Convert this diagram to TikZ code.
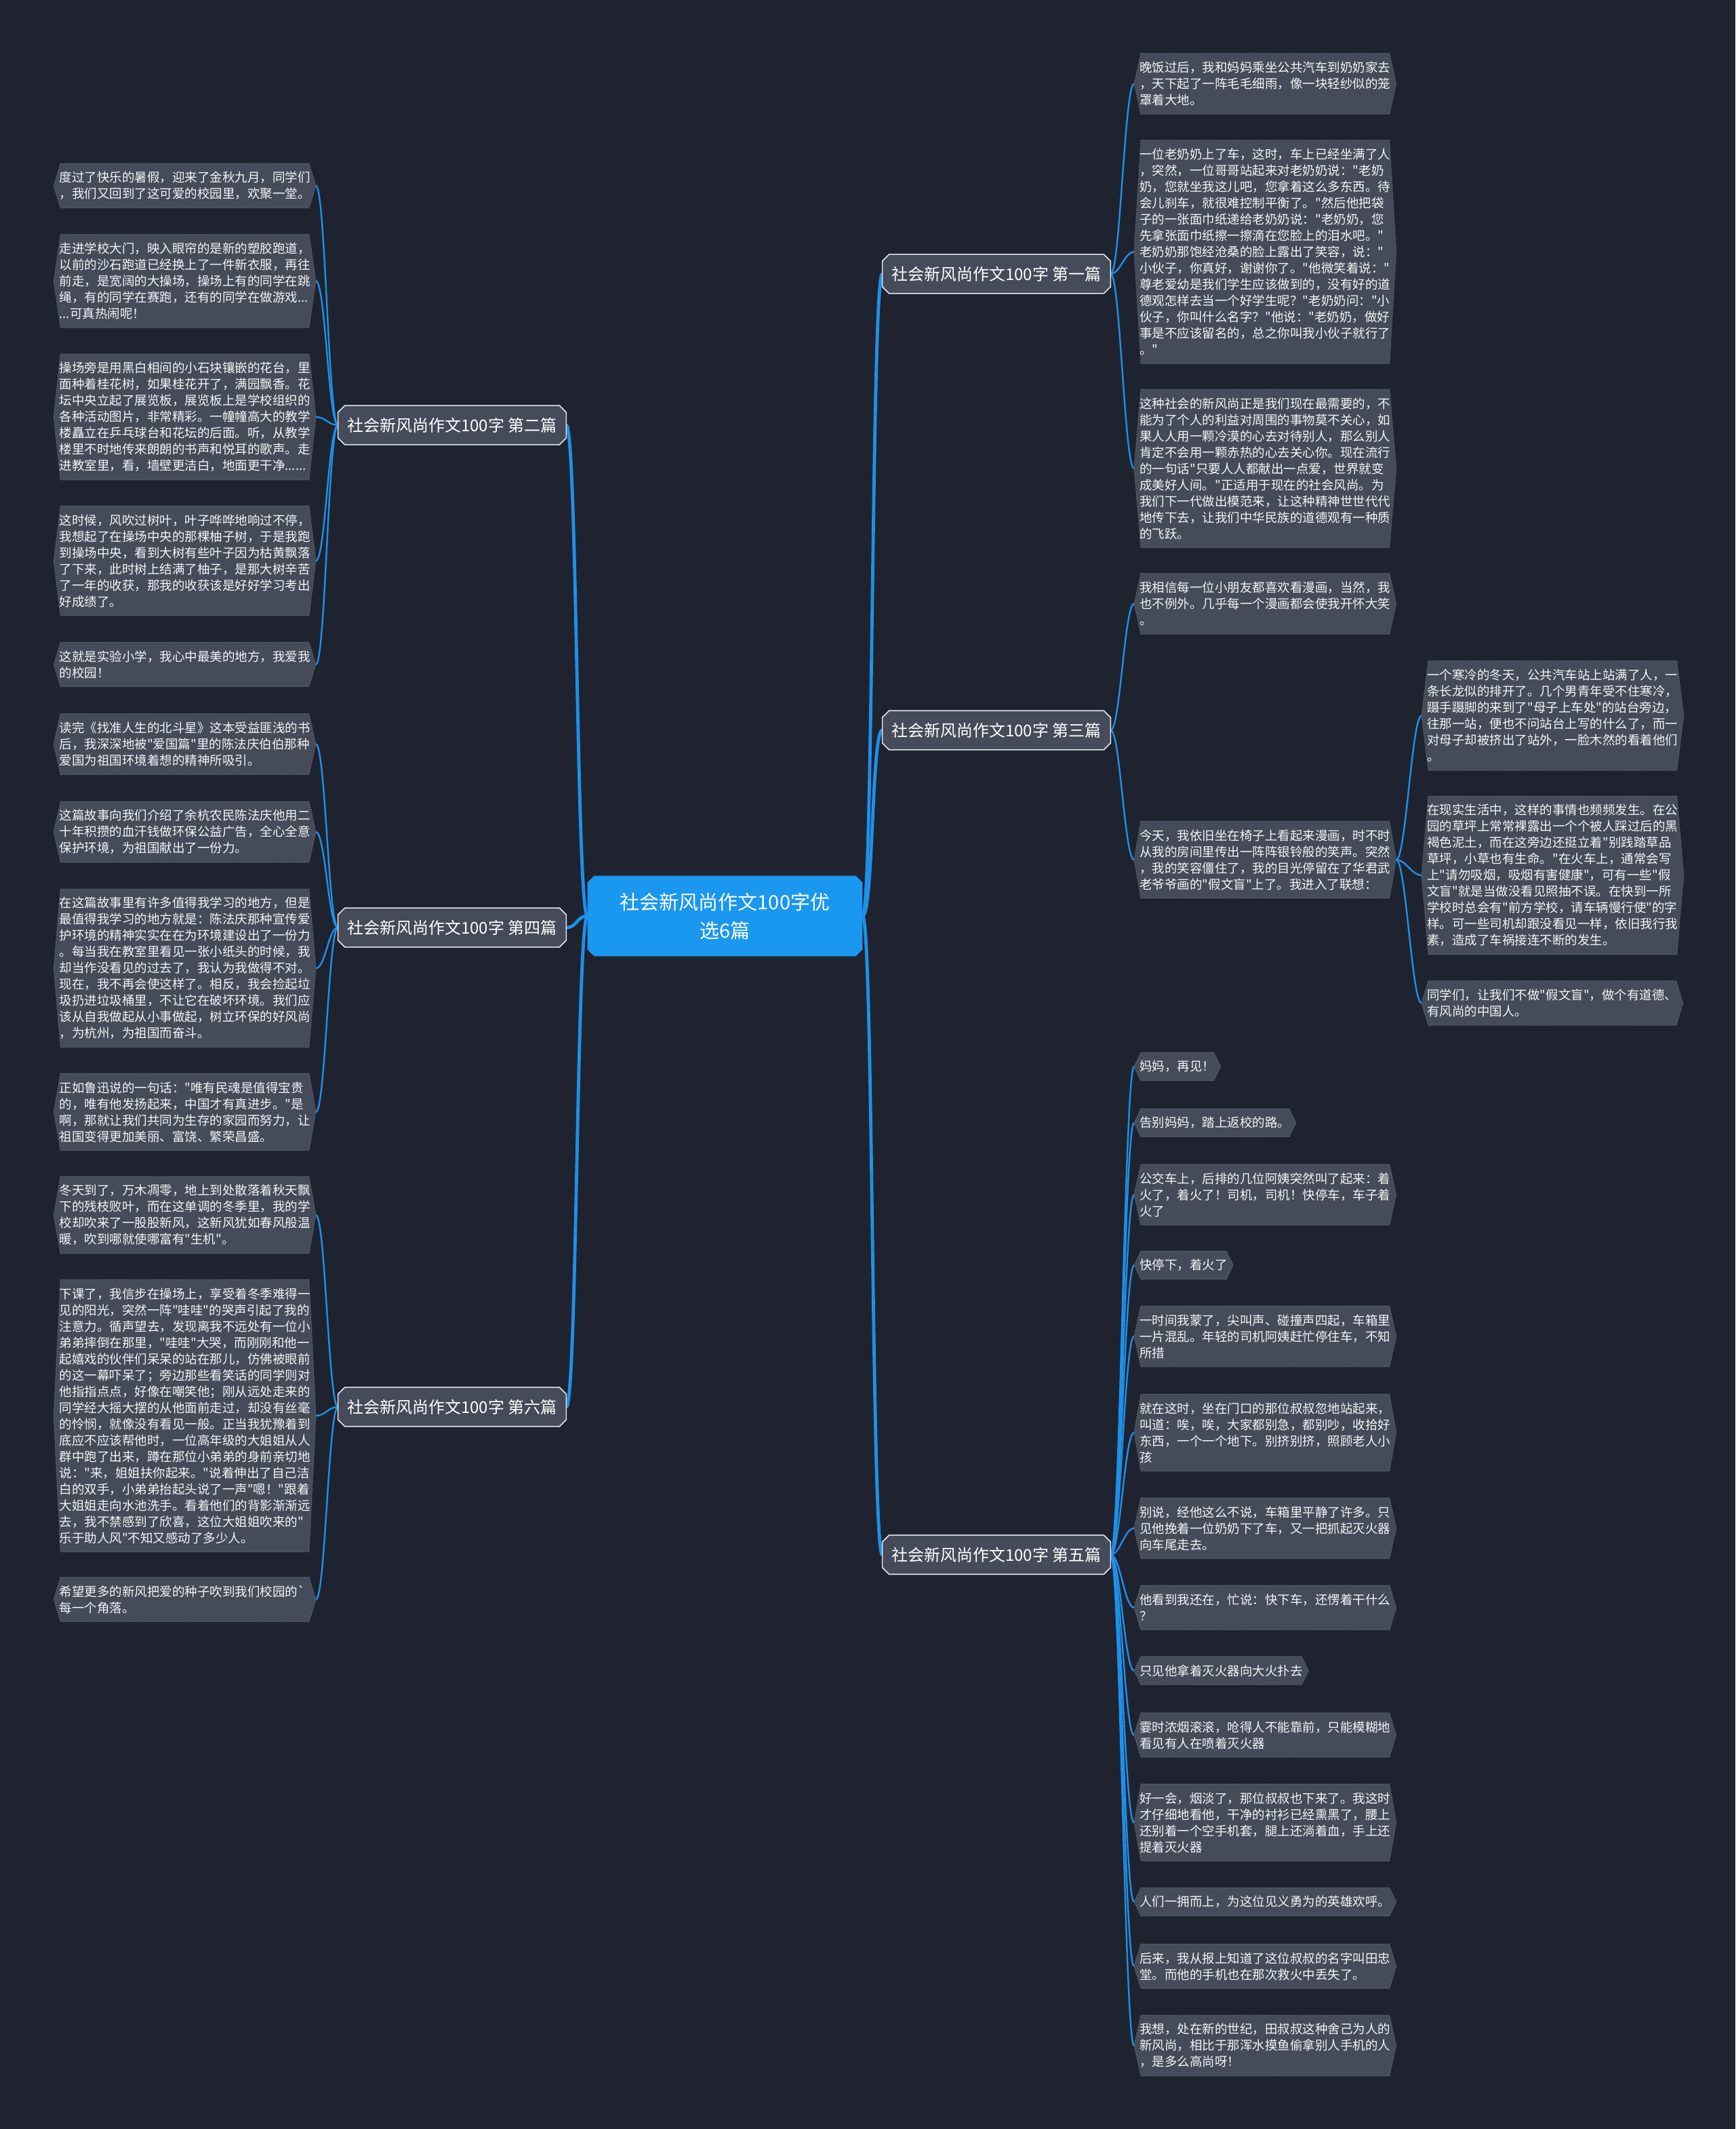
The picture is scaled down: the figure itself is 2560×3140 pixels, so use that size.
\documentclass[tikz,border=0pt]{standalone}
\usepackage{fontspec}
\newfontfamily\cjk{Noto Sans CJK SC}
\usetikzlibrary{backgrounds}
\definecolor{bgcol}{HTML}{1F2330}
\definecolor{leaffill}{HTML}{464B5A}
\definecolor{leafborder}{HTML}{737A8A}
\definecolor{branchborder}{HTML}{E2E6EC}
\definecolor{centerfill}{HTML}{1A97EF}
\definecolor{linecol}{HTML}{1E90E8}
\definecolor{txt}{HTML}{F4F5F7}
\tikzset{
 leaf/.style={inner xsep=4pt, inner ysep=0pt, align=left, text=txt, font=\cjk\fontsize{9.25pt}{12pt}\selectfont},
 branch/.style={inner sep=0pt, minimum width=168pt, minimum height=28.5pt, text=white, font=\cjk\fontsize{12pt}{14pt}\selectfont},
 centre/.style={inner sep=0pt, minimum width=202.5pt, minimum height=59pt, align=center, text=white, font=\cjk\fontsize{14.5pt}{21pt}\selectfont},
 leafshape/.style={fill=leaffill, draw=leafborder, line width=0.5pt, densely dotted},
 branchshape/.style={fill=leaffill, draw=branchborder, line width=0.8pt},
 centreshape/.style={fill=centerfill},
 leafconn/.style={draw=linecol, line width=1.2pt},
 mainconn/.style={draw=linecol, line width=2.4pt},
}
\newcommand\lf[6][]{\node[leaf,anchor=#3,minimum height={(24*#5+17)*0.5pt},#1] (#2) at (#4) {#6};}
\newcommand\hexa[1]{\path[leafshape] ([xshift=5pt]#1.north west) -- ([xshift=-5pt]#1.north east) -- (#1.east) -- ([xshift=-5pt]#1.south east) -- ([xshift=5pt]#1.south west) -- (#1.west) -- cycle;}
\newcommand\octa[3]{\path[#3] ([xshift=#2]#1.north west) -- ([xshift=-#2]#1.north east) -- ([yshift=-#2]#1.north east) -- ([yshift=#2]#1.south east) -- ([xshift=-#2]#1.south east) -- ([xshift=#2]#1.south west) -- ([yshift=#2]#1.south west) -- ([yshift=-#2]#1.north west) -- cycle;}
\begin{document}
\begin{tikzpicture}[x=0.5pt,y=-0.5pt]
\useasboundingbox (0,0) rectangle (2560,3140);
% centre and branches
\node[centre] (C) at (1069.5,1351) {社会新风尚作文100字优\\选6篇};
\node[branch] (B1) at (1470,404) {社会新风尚作文100字 第一篇};
\node[branch] (B3) at (1470,1077) {社会新风尚作文100字 第三篇};
\node[branch] (B5) at (1470,2293) {社会新风尚作文100字 第五篇};
\node[branch] (B2) at (667,627) {社会新风尚作文100字 第二篇};
\node[branch] (B4) at (667,1368) {社会新风尚作文100字 第四篇};
\node[branch] (B6) at (667,2075) {社会新风尚作文100字 第六篇};
% left leaves
\lf{L1}{east}{466,274}{2}{度过了快乐的暑假，迎来了金秋九月，同学们\\，我们又回到了这可爱的校园里，欢聚一堂。}
\lf{L2}{east}{466,414.5}{5}{走进学校大门，映入眼帘的是新的塑胶跑道，\\以前的沙石跑道已经换上了一件新衣服，再往\\前走，是宽阔的大操场，操场上有的同学在跳\\绳，有的同学在赛跑，还有的同学在做游戏...\\...可真热闹呢！}
\lf{L3}{east}{466,615}{7}{操场旁是用黑白相间的小石块镶嵌的花台，里\\面种着桂花树，如果桂花开了，满园飘香。花\\坛中央立起了展览板，展览板上是学校组织的\\各种活动图片，非常精彩。一幢幢高大的教学\\楼矗立在乒乓球台和花坛的后面。听，从教学\\楼里不时地传来朗朗的书声和悦耳的歌声。走\\进教室里，看，墙壁更洁白，地面更干净......}
\lf{L4}{east}{466,827}{6}{这时候，风吹过树叶，叶子哗哗地响过不停，\\我想起了在操场中央的那棵柚子树，于是我跑\\到操场中央，看到大树有些叶子因为枯黄飘落\\了下来，此时树上结满了柚子，是那大树辛苦\\了一年的收获，那我的收获该是好好学习考出\\好成绩了。}
\lf{L5}{east}{466,980}{2}{这就是实验小学，我心中最美的地方，我爱我\\的校园！}
\lf{L6}{east}{466,1097.5}{3}{读完《找准人生的北斗星》这本受益匪浅的书\\后，我深深地被"爱国篇"里的陈法庆伯伯那种\\爱国为祖国环境着想的精神所吸引。}
\lf{L7}{east}{466,1227}{3}{这篇故事向我们介绍了余杭农民陈法庆他用二\\十年积攒的血汗钱做环保公益广告，全心全意\\保护环境，为祖国献出了一份力。}
\lf{L8}{east}{466,1428}{9}{在这篇故事里有许多值得我学习的地方，但是\\最值得我学习的地方就是：陈法庆那种宣传爱\\护环境的精神实实在在为环境建设出了一份力\\。每当我在教室里看见一张小纸头的时候，我\\却当作没看见的过去了，我认为我做得不对。\\现在，我不再会使这样了。相反，我会捡起垃\\圾扔进垃圾桶里，不让它在破坏环境。我们应\\该从自我做起从小事做起，树立环保的好风尚\\，为杭州，为祖国而奋斗。}
\lf{L9}{east}{466,1640}{4}{正如鲁迅说的一句话："唯有民魂是值得宝贵\\的，唯有他发扬起来，中国才有真进步。"是\\啊，那就让我们共同为生存的家园而努力，让\\祖国变得更加美丽、富饶、繁荣昌盛。}
\lf{L10}{east}{466,1792}{4}{冬天到了，万木凋零，地上到处散落着秋天飘\\下的残枝败叶，而在这单调的冬季里，我的学\\校却吹来了一股股新风，这新风犹如春风般温\\暖，吹到哪就使哪富有"生机"。}
\lf{L11}{east}{466,2088}{16}{下课了，我信步在操场上，享受着冬季难得一\\见的阳光，突然一阵"哇哇"的哭声引起了我的\\注意力。循声望去，发现离我不远处有一位小\\弟弟摔倒在那里，"哇哇"大哭，而刚刚和他一\\起嬉戏的伙伴们呆呆的站在那儿，仿佛被眼前\\的这一幕吓呆了；旁边那些看笑话的同学则对\\他指指点点，好像在嘲笑他；刚从远处走来的\\同学经大摇大摆的从他面前走过，却没有丝毫\\的怜悯，就像没有看见一般。正当我犹豫着到\\底应不应该帮他时，一位高年级的大姐姐从人\\群中跑了出来，蹲在那位小弟弟的身前亲切地\\说："来，姐姐扶你起来。"说着伸出了自己洁\\白的双手，小弟弟抬起头说了一声"嗯！"跟着\\大姐姐走向水池洗手。看着他们的背影渐渐远\\去，我不禁感到了欣喜，这位大姐姐吹来的"\\乐于助人风"不知又感动了多少人。}
\lf[minimum width=193pt,text width=185pt]{L12}{east}{466,2359}{2}{希望更多的新风把爱的种子吹到我们校园的`\\每一个角落。}
% right leaves
\lf{R1}{west}{1673,123.5}{3}{晚饭过后，我和妈妈乘坐公共汽车到奶奶家去\\，天下起了一阵毛毛细雨，像一块轻纱似的笼\\罩着大地。}
\lf{R2}{west}{1673,371.5}{13}{一位老奶奶上了车，这时，车上已经坐满了人\\，突然，一位哥哥站起来对老奶奶说："老奶\\奶，您就坐我这儿吧，您拿着这么多东西。待\\会儿刹车，就很难控制平衡了。"然后他把袋\\子的一张面巾纸递给老奶奶说："老奶奶，您\\先拿张面巾纸擦一擦滴在您脸上的泪水吧。"\\老奶奶那饱经沧桑的脸上露出了笑容，说："\\小伙子，你真好，谢谢你了。"他微笑着说："\\尊老爱幼是我们学生应该做到的，没有好的道\\德观怎样去当一个好学生呢？"老奶奶问："小\\伙子，你叫什么名字？"他说："老奶奶，做好\\事是不应该留名的，总之你叫我小伙子就行了\\。"}
\lf{R3}{west}{1673,691}{9}{这种社会的新风尚正是我们现在最需要的，不\\能为了个人的利益对周围的事物莫不关心，如\\果人人用一颗冷漠的心去对待别人，那么别人\\肯定不会用一颗赤热的心去关心你。现在流行\\的一句话"只要人人都献出一点爱，世界就变\\成美好人间。"正适用于现在的社会风尚。为\\我们下一代做出模范来，让这种精神世世代代\\地传下去，让我们中华民族的道德观有一种质\\的飞跃。}
\lf{R4}{west}{1673,890.5}{3}{我相信每一位小朋友都喜欢看漫画，当然，我\\也不例外。几乎每一个漫画都会使我开怀大笑\\。}
\lf{R5}{west}{1673,1268}{4}{今天，我依旧坐在椅子上看起来漫画，时不时\\从我的房间里传出一阵阵银铃般的笑声。突然\\，我的笑容僵住了，我的目光停留在了华君武\\老爷爷画的"假文盲"上了。我进入了联想：}
\lf{F1}{west}{2097,1055.5}{6}{一个寒冷的冬天，公共汽车站上站满了人，一\\条长龙似的排开了。几个男青年受不住寒冷，\\蹑手蹑脚的来到了"母子上车处"的站台旁边，\\往那一站，便也不问站台上写的什么了，而一\\对母子却被挤出了站外，一脸木然的看着他们\\。}
\lf{F2}{west}{2097,1291}{9}{在现实生活中，这样的事情也频频发生。在公\\园的草坪上常常裸露出一个个被人踩过后的黑\\褐色泥土，而在这旁边还挺立着"别践踏草品\\草坪，小草也有生命。"在火车上，通常会写\\上"请勿吸烟，吸烟有害健康"，可有一些"假\\文盲"就是当做没看见照抽不误。在快到一所\\学校时总会有"前方学校，请车辆慢行使"的字\\样。可一些司机却跟没看见一样，依旧我行我\\素，造成了车祸接连不断的发生。}
\lf{F3}{west}{2097,1479.5}{2}{同学们，让我们不做"假文盲"，做个有道德、\\有风尚的中国人。}
\lf{R6}{west}{1673,1573}{1}{妈妈，再见！}
\lf{R7}{west}{1673,1656}{1}{告别妈妈，踏上返校的路。}
\lf{R8}{west}{1673,1762}{3}{公交车上，后排的几位阿姨突然叫了起来：着\\火了，着火了！司机，司机！快停车，车子着\\火了}
\lf{R9}{west}{1673,1866}{1}{快停下，着火了}
\lf{R10}{west}{1673,1971}{3}{一时间我蒙了，尖叫声、碰撞声四起，车箱里\\一片混乱。年轻的司机阿姨赶忙停住车，不知\\所措}
\lf{R11}{west}{1673,2113}{4}{就在这时，坐在门口的那位叔叔忽地站起来，\\叫道：唉，唉，大家都别急，都别吵，收拾好\\东西，一个一个地下。别挤别挤，照顾老人小\\孩}
\lf{R12}{west}{1673,2254}{3}{别说，经他这么不说，车箱里平静了许多。只\\见他挽着一位奶奶下了车，又一把抓起灭火器\\向车尾走去。}
\lf{R13}{west}{1673,2371}{2}{他看到我还在，忙说：快下车，还愣着干什么\\？}
\lf{R14}{west}{1673,2464}{1}{只见他拿着灭火器向大火扑去}
\lf{R15}{west}{1673,2559}{2}{霎时浓烟滚滚，呛得人不能靠前，只能模糊地\\看见有人在喷着灭火器}
\lf{R16}{west}{1673,2688}{4}{好一会，烟淡了，那位叔叔也下来了。我这时\\才仔细地看他，干净的衬衫已经熏黑了，腰上\\还别着一个空手机套，腿上还淌着血，手上还\\提着灭火器}
\lf{R17}{west}{1673,2805}{1}{人们一拥而上，为这位见义勇为的英雄欢呼。}
\lf{R18}{west}{1673,2900}{2}{后来，我从报上知道了这位叔叔的名字叫田忠\\堂。而他的手机也在那次救火中丢失了。}
\lf{R19}{west}{1673,3017}{3}{我想，处在新的世纪，田叔叔这种舍己为人的\\新风尚，相比于那浑水摸鱼偷拿别人手机的人\\，是多么高尚呀！}
\begin{scope}[on background layer]
\fill[bgcol] (0,0) rectangle (2560,3140);
% main connectors
\foreach \b in {B1,B3,B5} \draw[mainconn] (C.east) to[out=0,in=180,distance=8pt] (\b.west);
\foreach \b in {B2,B4,B6} \draw[mainconn] (C.west) to[out=180,in=0,distance=8pt] (\b.east);
% leaf connectors
\foreach \b/\l in {B2/L1,B2/L2,B2/L3,B2/L4,B2/L5,B4/L6,B4/L7,B4/L8,B4/L9,B6/L10,B6/L11,B6/L12}
  \draw[leafconn] (\b.west) to[out=180,in=0,distance=7pt] (\l.east);
\foreach \b/\l in {B1/R1,B1/R2,B1/R3,B3/R4,B3/R5,R5/F1,R5/F2,R5/F3,B5/R6,B5/R7,B5/R8,B5/R9,B5/R10,B5/R11,B5/R12,B5/R13,B5/R14,B5/R15,B5/R16,B5/R17,B5/R18,B5/R19}
  \draw[leafconn] (\b.east) to[out=0,in=180,distance=7pt] (\l.west);
% shapes
\foreach \n in {L1,L2,L3,L4,L5,L6,L7,L8,L9,L10,L11,L12,R1,R2,R3,R4,R5,F1,F2,F3,R6,R7,R8,R9,R10,R11,R12,R13,R14,R15,R16,R17,R18,R19} {\hexa{\n}}
\foreach \n in {B1,B2,B3,B4,B5,B6} {\octa{\n}{5pt}{branchshape}}
\octa{C}{5pt}{centreshape}
\end{scope}
\end{tikzpicture}
\end{document}
